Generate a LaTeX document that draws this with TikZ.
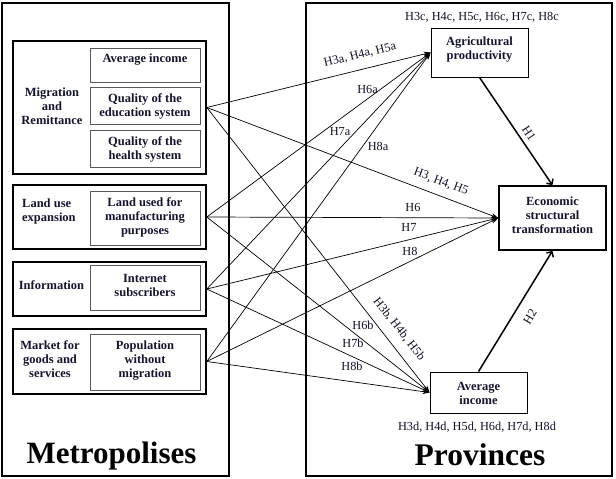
\documentclass[tikz,border=0pt]{standalone}
\usepackage{fontspec}
\setmainfont{Liberation Serif}
\usetikzlibrary{arrows.meta}
\definecolor{ink}{RGB}{20,20,45}
\begin{document}
\begin{tikzpicture}[x=1pt,y=-1pt,
  bigbox/.style={draw,line width=1.8pt,inner sep=0pt},
  grpbox/.style={draw,line width=1.6pt,minimum width=193pt,inner sep=0pt},
  inbox/.style={draw=black!65,line width=0.9pt,minimum width=110pt,inner sep=0pt},
  tgtbox/.style={draw,line width=0.9pt,inner sep=0pt},
  lbl/.style={font=\fontsize{12.5}{14}\selectfont\bfseries,align=center,text=ink,inner sep=0pt},
  hyp/.style={font=\fontsize{12.3}{13}\selectfont,text=ink!80!black,inner sep=0pt},
  huge/.style={font=\fontsize{31}{34}\selectfont\bfseries,inner sep=0pt,anchor=base},
  arr/.style={-{Stealth[length=7pt,width=5pt]},line width=0.7pt},
  thk/.style={-{Straight Barb[length=4pt,width=8pt]},line width=1.5pt}]
\useasboundingbox (0,0) rectangle (616,479);
% big boxes
\node[bigbox,minimum width=227pt,minimum height=473pt] (L) at (115.5,239.5) {};
\node[bigbox,minimum width=306pt,minimum height=473pt] (R) at (459,239.5) {};
% group boxes
\node[grpbox,minimum height=133pt] (G1) at (109.5,107.5) {};
\node[grpbox,minimum height=64pt] (G2) at (109.5,217) {};
\node[grpbox,minimum height=54pt] (G3) at (109.5,289) {};
\node[grpbox,minimum height=65pt] (G4) at (109.5,361.5) {};
% inner boxes
\node[inbox,minimum height=34pt] (I1) at (145,65) {};
\node[inbox,minimum height=37pt] (I2) at (145,105.5) {};
\node[inbox,minimum height=37pt] (I3) at (145,148.5) {};
\node[inbox,minimum height=54pt] (I4) at (145,218) {};
\node[inbox,minimum height=45pt] (I5) at (145,287.5) {};
\node[inbox,minimum height=56pt] (I6) at (145,362) {};
% inner texts
\node[lbl] (T1) at (145,60) {Average income};
\node[lbl] (T2) at (145,106) {Quality of the\\education system};
\node[lbl] (T3) at (145,149) {Quality of the\\health system};
\node[lbl] (T4) at (145,217) {Land used for\\manufacturing\\purposes};
\node[lbl] (T5) at (145,285) {Internet\\subscribers};
\node[lbl] (T6) at (145,361) {Population\\without\\migration};
% group labels
\node[lbl] (N1) at (52,106) {Migration\\and\\Remittance};
\node[lbl,align=left,anchor=west] (N2) at (22,211) {Land use\\expansion};
\node[lbl] (N3) at (51.5,285) {Information};
\node[lbl] (N4) at (50,359.5) {Market for\\goods and\\services};
% target boxes
\node[tgtbox,minimum width=97pt,minimum height=49pt] (AP) at (479.5,52.5) {};
\node[draw,line width=1.6pt,inner sep=0pt,minimum width=107pt,minimum height=64pt] (EST) at (552.5,218) {};
\node[tgtbox,minimum width=97pt,minimum height=41pt] (AI) at (478.5,392.5) {};
\node[lbl] (TAP) at (479.5,49.5) {Agricultural\\productivity};
\node[lbl] (TEST) at (552.5,215) {Economic\\structural\\transformation};
\node[lbl] (TAI) at (478.5,393.5) {Average\\income};
% big labels
\node[huge] (MET) at (111.5,463) {Metropolises};
\node[huge,font=\fontsize{31.5}{34}\selectfont\bfseries] (PRO) at (480,465) {Provinces};
% arrows
\foreach \s in {G1,G2,G3,G4}{
  \draw[arr] (\s.east) -- (AP.west);
  \draw[arr] (\s.east) -- (EST.west);
  \draw[arr] (\s.east) -- (AI.west);
}
\draw[thk] (AP.south) -- (EST.north);
\draw[thk] (AI.north) -- (EST.south);
% hypothesis labels
\node[hyp,rotate=13.8] (h3a) at (360,55) {H3a, H4a, H5a};
\node[hyp] (h6a) at (367.5,89) {H6a};
\node[hyp] (h7a) at (340,132) {H7a};
\node[hyp] (h8a) at (378,146) {H8a};
\node[hyp,rotate=-20.7] (h3) at (441,182) {H3, H4, H5};
\node[hyp] (h6) at (413,207) {H6};
\node[hyp] (h7) at (409,227) {H7};
\node[hyp] (h8) at (410,251) {H8};
\node[hyp,rotate=-51.8] (h3b) at (399,329) {H3b, H4b, H5b};
\node[hyp] (h6b) at (363,325) {H6b};
\node[hyp] (h7b) at (353,343) {H7b};
\node[hyp] (h8b) at (352,366) {H8b};
\node[hyp,rotate=-56.2] (h1) at (529,133) {H1};
\node[hyp,rotate=58.8] (h2) at (530,317) {H2};
\node[hyp] (h3c) at (482,17) {H3c, H4c, H5c, H6c, H7c, H8c};
\node[hyp] (h3d) at (477,427) {H3d, H4d, H5d, H6d, H7d, H8d};
\end{tikzpicture}
\end{document}
